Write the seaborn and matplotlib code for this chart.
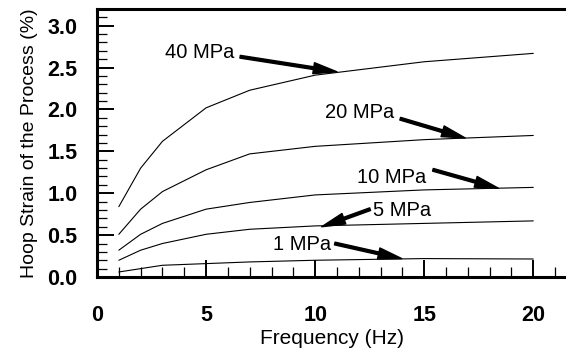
import matplotlib
matplotlib.use("Agg")
import matplotlib.pyplot as plt
from matplotlib.ticker import MultipleLocator, FormatStrFormatter
import seaborn as sns
import pandas as pd

# frequency points (Hz) shared by every curve
freq = [1, 2, 3, 5, 7, 10, 15, 20]

# hoop strain (%) for each stress level
strain_1mpa = [0.06, 0.10, 0.14, 0.16, 0.18, 0.20, 0.22, 0.215]
strain_5mpa = [0.20, 0.32, 0.40, 0.51, 0.57, 0.61, 0.64, 0.67]
strain_10mpa = [0.32, 0.51, 0.64, 0.81, 0.89, 0.98, 1.04, 1.07]
strain_20mpa = [0.51, 0.81, 1.02, 1.28, 1.47, 1.56, 1.64, 1.69]
strain_40mpa = [0.84, 1.30, 1.62, 2.02, 2.23, 2.41, 2.57, 2.67]

labels = ["1 MPa", "5 MPa", "10 MPa", "20 MPa", "40 MPa"]
series = [strain_1mpa, strain_5mpa, strain_10mpa, strain_20mpa, strain_40mpa]

# label text anchor (left, baseline), arrow tail and arrow head, in data units
label_pos = [(8.07, 0.323), (12.66, 0.732), (11.9, 1.12), (10.46, 1.90), (3.12, 2.617)]
arrow_tail = [(10.9, 0.40), (12.52, 0.81), (15.4, 1.28), (13.9, 1.89), (6.56, 2.63)]
arrow_head = [(13.97, 0.22), (10.3, 0.60), (18.4, 1.06), (16.88, 1.66), (11.0, 2.45)]

rows = []
for lab, vals in zip(labels, series):
    for f, v in zip(freq, vals):
        rows.append({"freq": f, "strain": v, "stress": lab})
df = pd.DataFrame(rows)

sns.set_style("ticks")
plt.rcParams["font.family"] = ["Liberation Sans", "DejaVu Sans"]
for key in ["text.color", "axes.labelcolor", "xtick.color", "ytick.color"]:
    plt.rcParams[key] = "black"

fig = plt.figure(figsize=(5.66, 3.54), dpi=100)
ax = fig.add_axes([0.1714, 0.2175, 0.8286, 0.7571])

sns.lineplot(data=df, x="freq", y="strain", hue="stress",
             palette=["black"] * len(labels), linewidth=0.8,
             legend=False, ax=ax)

for lab, (tx, ty), tail, head in zip(labels, label_pos, arrow_tail, arrow_head):
    ax.text(tx, ty, lab, fontsize=14.5, ha="left", va="baseline")
    ax.annotate("", xy=head, xytext=tail,
                arrowprops=dict(facecolor="black", edgecolor="black",
                                width=2.0, headwidth=8, headlength=17, shrink=0))

ax.set_xlim(0, 21.5)
ax.set_ylim(0, 3.2)
ax.xaxis.set_major_locator(MultipleLocator(5))
ax.xaxis.set_minor_locator(MultipleLocator(1))
ax.yaxis.set_major_locator(MultipleLocator(0.5))
ax.yaxis.set_minor_locator(MultipleLocator(0.1))
ax.yaxis.set_major_formatter(FormatStrFormatter("%.1f"))

ax.tick_params(which="both", direction="in", top=False, right=False, color="black")
ax.tick_params(which="major", length=12.5, width=1.4)
ax.tick_params(which="minor", length=7, width=0.9)
ax.tick_params(axis="x", which="major", pad=20)
ax.tick_params(axis="y", which="major", pad=14)
for lbl in ax.get_xticklabels() + ax.get_yticklabels():
    lbl.set_fontweight("bold")
    lbl.set_fontsize(15.5)

for side in ["left", "bottom", "top"]:
    ax.spines[side].set_linewidth(2.2)
    ax.spines[side].set_color("black")
ax.spines["right"].set_visible(False)

ax.set_xlabel("Frequency (Hz)", fontsize=15, labelpad=2)
ax.set_ylabel("Hoop Strain of the Process (%)", fontsize=14, labelpad=7)

fig.savefig("out.png", dpi=100)
